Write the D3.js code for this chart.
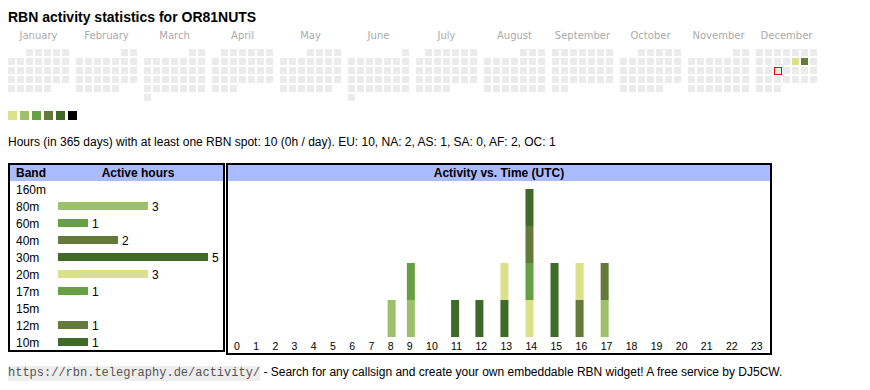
<!DOCTYPE html>
<html><head><meta charset="utf-8">
<script src="https://cdn.jsdelivr.net/npm/d3@7"></script>
<style>body{margin:0;background:#fff}svg{display:block}text{white-space:pre}</style>
</head><body>
<svg id="c" width="870" height="390"></svg>
<script>
// ---------- data ----------
const title = "RBN activity statistics for OR81NUTS";
const year = 2025;
const monthNames = ["January","February","March","April","May","June","July","August","September","October","November","December"];
const activeDays = ["2025-12-12","2025-12-13"];
const activeLevels = [1,4];
const todayDate = "2025-12-17";
const levelColors = ["#d9e18a","#9dc06b","#67a044","#647a3a","#3e6b27","#000000"];
const summaryText = "Hours (in 365 days) with at least one RBN spot: 10 (0h / day). EU: 10, NA: 2, AS: 1, SA: 0, AF: 2, OC: 1";
const bands = ["160m","80m","60m","40m","30m","20m","17m","15m","12m","10m"];
const bandHours = [0,3,1,2,5,3,1,0,1,1];
const bandColors = ["#d9e18a","#9dc06b","#67a044","#647a3a","#3e6b27","#d9e18a","#67a044","#9dc06b","#647a3a","#3e6b27"];
const hourLabels = ["0","1","2","3","4","5","6","7","8","9","10","11","12","13","14","15","16","17","18","19","20","21","22","23"];
// bands active in each UTC hour, bottom to top
const hourStacks = [[],[],[],[],[],[],[],[],
  ["80m"],["80m","60m"],[],["30m"],["30m"],["30m","20m"],
  ["20m","17m","40m","30m"],["30m","10m"],["40m","20m"],["80m","12m"],
  [],[],[],[],[],[]];
const footerCode = "https://rbn.telegraphy.de/activity/";
const footerText = " - Search for any callsign and create your own embeddable RBN widget! A free service by DJ5CW.";

// ---------- drawing ----------
const svg = d3.select("#c");
const SANS = "'Liberation Sans', Arial, sans-serif";
const bandColor = d3.scaleOrdinal().domain(bands).range(bandColors);

svg.append("text").attr("x",8).attr("y",22).attr("font-family",SANS)
  .attr("font-size",14).attr("font-weight","bold").attr("fill","#000").text(title);

// calendar
const monthX = d3.scaleLinear().domain([0,12]).range([8, 8+68*12]);
const colX = d3.scaleLinear().domain([0,7]).range([0,63]);
const rowY = d3.scaleLinear().domain([0,6]).range([49,49+54]);
const fmt = d3.timeFormat("%Y-%m-%d");
const levelByDay = new Map(activeDays.map((d,i)=>[d,activeLevels[i]]));
const cal = svg.append("g");
monthNames.forEach((name,m)=>{
  cal.append("text").attr("x", monthX(m)+30.5).attr("y",39).attr("text-anchor","middle")
    .attr("font-family","'DejaVu Sans', Verdana, sans-serif").attr("font-size",10).attr("fill","#aaa").text(name);
  const first = new Date(year,m,1);
  const fw = (first.getDay()+6)%7;
  const days = d3.timeDay.range(first, new Date(year,m+1,1));
  days.forEach(day=>{
    const d = day.getDate();
    const wd = (day.getDay()+6)%7;
    const row = Math.floor((d-1+fw)/7);
    const key = fmt(day);
    const lv = levelByDay.get(key);
    const r = cal.append("rect").attr("x",monthX(m)+colX(wd)).attr("y",rowY(row))
      .attr("width",7).attr("height",7)
      .attr("fill", lv ? levelColors[lv-1] : "#ebebeb");
    if (key===todayDate){
      r.attr("x",monthX(m)+colX(wd)+0.5).attr("y",rowY(row)+0.5)
       .attr("stroke","#e00000").attr("stroke-width",1);
    }
  });
});

// legend
const legX = d3.scaleLinear().domain([0,6]).range([8,80]);
svg.append("g").selectAll("rect").data(levelColors).join("rect")
  .attr("x",(d,i)=>legX(i)).attr("y",111).attr("width",9).attr("height",9).attr("fill",d=>d);

svg.append("text").attr("x",8).attr("y",146).attr("font-family",SANS).attr("font-size",12)
  .attr("fill","#000").text(summaryText);

// band table
svg.append("rect").attr("x",9).attr("y",164).attr("width",215).attr("height",187)
  .attr("fill","#fff").attr("stroke","#000").attr("stroke-width",2);
svg.append("rect").attr("x",10).attr("y",165).attr("width",213).attr("height",16).attr("fill","#aabbff");
svg.append("text").attr("x",16).attr("y",177).attr("font-family",SANS).attr("font-size",12)
  .attr("font-weight","bold").text("Band");
svg.append("text").attr("x",138).attr("y",177).attr("text-anchor","middle").attr("font-family",SANS)
  .attr("font-size",12).attr("font-weight","bold").text("Active hours");
const rowScale = d3.scalePoint().domain(bands).range([193.5, 346.5]);
const barX = d3.scaleLinear().domain([0, d3.max(bandHours)]).range([58, 208]);
const bg = svg.append("g").attr("font-family",SANS).attr("font-size",12).attr("fill","#000");
bands.forEach((b,i)=>{
  const y = rowScale(b);
  bg.append("text").attr("x",16).attr("y",y).text(b);
  if (bandHours[i]>0){
    bg.append("rect").attr("x",barX(0)).attr("y",y-8.5).attr("width",barX(bandHours[i])-barX(0))
      .attr("height",8).attr("fill",bandColor(b));
    bg.append("text").attr("x",barX(bandHours[i])+4).attr("y",y).text(bandHours[i]);
  }
});

// activity vs time
svg.append("rect").attr("x",227).attr("y",164).attr("width",544).attr("height",190)
  .attr("fill","#fff").attr("stroke","#000").attr("stroke-width",2);
svg.append("rect").attr("x",228).attr("y",165).attr("width",542).attr("height",16).attr("fill","#aabbff");
svg.append("text").attr("x",499).attr("y",177).attr("text-anchor","middle").attr("font-family",SANS)
  .attr("font-size",12).attr("font-weight","bold").text("Activity vs. Time (UTC)");

const ag = svg.append("g");
const labels = ag.selectAll("text.h").data(hourLabels).join("text").attr("class","h")
  .attr("font-family",SANS).attr("font-size",10.5).attr("fill","#000").attr("y",349.5).text(d=>d);
// table-like column layout: width = text width + equal share of free space
const lens = labels.nodes().map(n=>n.getComputedTextLength());
const tableW = 542;
const pad = (tableW - d3.sum(lens))/hourLabels.length;
const starts = Array.from(d3.cumsum([0, ...lens.map(l=>l+pad)])).slice(0, hourLabels.length);
const hourX = d3.scaleOrdinal().domain(hourLabels).range(starts.map(s=>234+s));
labels.attr("x",d=>hourX(d));

const maxStack = d3.max(hourStacks, s=>s.length);
const y = d3.scaleLinear().domain([0,maxStack]).range([337,189]);
hourStacks.forEach((stack,h)=>{
  stack.forEach((b,k)=>{
    ag.append("rect").attr("x",hourX(hourLabels[h])).attr("y",y(k+1))
      .attr("width",8).attr("height",y(k)-y(k+1)).attr("fill",bandColor(b));
  });
});

// footer
const fg = svg.append("g");
const codeBg = fg.append("rect").attr("x",8).attr("y",366).attr("height",15).attr("fill","#eeeeee");
const code = fg.append("text").attr("x",8).attr("y",376).attr("font-family","'Liberation Mono', 'Courier New', monospace")
  .attr("font-size",12).attr("fill","#555").text(footerCode);
const cw = code.node().getComputedTextLength();
codeBg.attr("width",cw);
fg.append("text").attr("x",8+cw).attr("y",376).attr("font-family",SANS).attr("font-size",12)
  .attr("fill","#000").text(footerText);
</script>
</body></html>
